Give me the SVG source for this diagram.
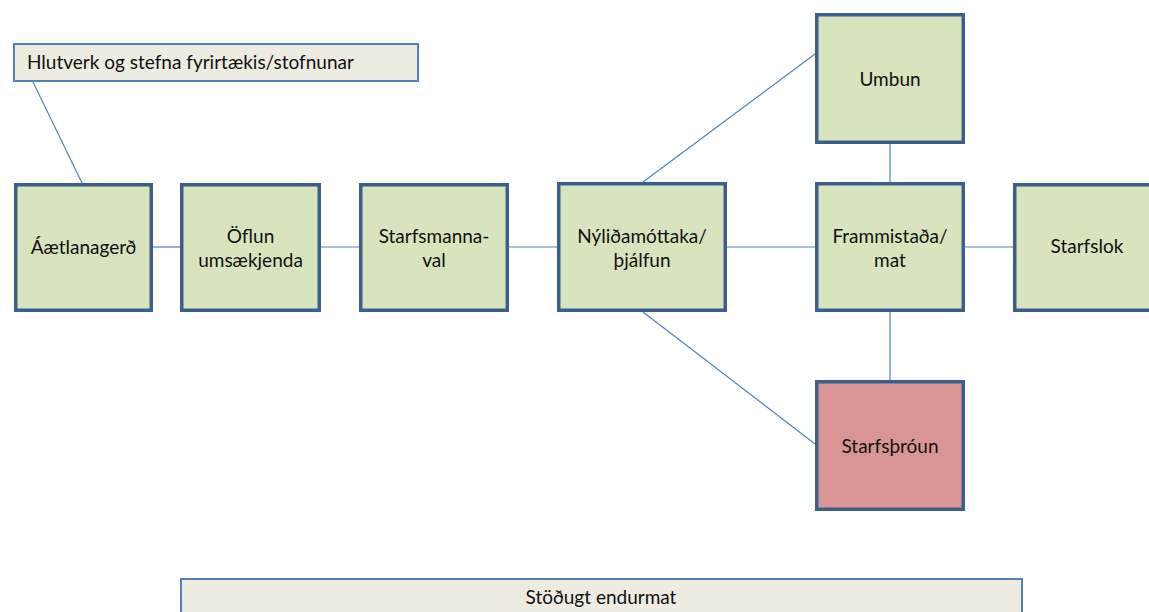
<svg xmlns="http://www.w3.org/2000/svg" width="1149" height="612" viewBox="0 0 1149 612">
<style>
.node{fill:#d7e4bd;stroke:#3a5f8d;stroke-width:3.5}
.red{fill:#d99694}
.band{fill:#eeece1;stroke:#4f81bd;stroke-width:2}
.conn line{stroke:#4f81bd;stroke-width:1.2}
text{font-family:Lato,"Liberation Sans",sans-serif;font-size:19px;fill:#111}
.c{text-anchor:middle}
</style>
<rect width="1149" height="612" fill="#fff"/>
<g id="connectors" class="conn">
<line x1="33" y1="82" x2="82" y2="183"/>
<line x1="153" y1="247" x2="180" y2="247"/>
<line x1="321" y1="247" x2="359" y2="247"/>
<line x1="509" y1="247" x2="557" y2="247"/>
<line x1="727" y1="247" x2="815" y2="247"/>
<line x1="965" y1="247" x2="1013" y2="247"/>
<line x1="643" y1="182" x2="815" y2="54"/>
<line x1="890" y1="144" x2="890" y2="182"/>
<line x1="643" y1="312" x2="815" y2="444"/>
<line x1="890" y1="312" x2="890" y2="380"/>
</g>
<g id="hlutverk">
<rect class="band" x="14" y="44" width="404" height="37"/>
<text x="27" y="69">Hlutverk og stefna fyrirtækis/stofnunar</text>
</g>
<g id="aaetlanagerd">
<rect class="node" x="15.75" y="184.75" width="135.5" height="125.5"/>
<text class="c" x="83.5" y="254">Áætlanagerð</text>
</g>
<g id="oflun">
<rect class="node" x="181.75" y="184.75" width="137.5" height="125.5"/>
<text class="c" x="250.5" y="243">Öflun</text>
<text class="c" x="250.5" y="267">umsækjenda</text>
</g>
<g id="starfsmannaval">
<rect class="node" x="360.75" y="184.75" width="146.5" height="125.5"/>
<text class="c" x="434" y="243">Starfsmanna-</text>
<text class="c" x="434" y="267">val</text>
</g>
<g id="nylidamottaka">
<rect class="node" x="558.75" y="183.75" width="166.5" height="126.5"/>
<text class="c" x="642" y="243">Nýliðamóttaka/</text>
<text class="c" x="642" y="267">þjálfun</text>
</g>
<g id="umbun">
<rect class="node" x="816.75" y="14.75" width="146.5" height="127.5"/>
<text class="c" x="890" y="86">Umbun</text>
</g>
<g id="frammistada">
<rect class="node" x="816.75" y="183.75" width="146.5" height="126.5"/>
<text class="c" x="890" y="243">Frammistaða/</text>
<text class="c" x="890" y="267">mat</text>
</g>
<g id="starfslok">
<rect class="node" x="1014.75" y="184.75" width="145.5" height="125.5"/>
<text class="c" x="1087" y="253">Starfslok</text>
</g>
<g id="starfsthroun">
<rect class="node red" x="816.75" y="381.75" width="146.5" height="127.5"/>
<text class="c" x="890" y="453">Starfsþróun</text>
</g>
<g id="stodugt">
<rect class="band" x="181" y="579" width="841" height="50"/>
<text class="c" x="601" y="604">Stöðugt endurmat</text>
</g>
</svg>
